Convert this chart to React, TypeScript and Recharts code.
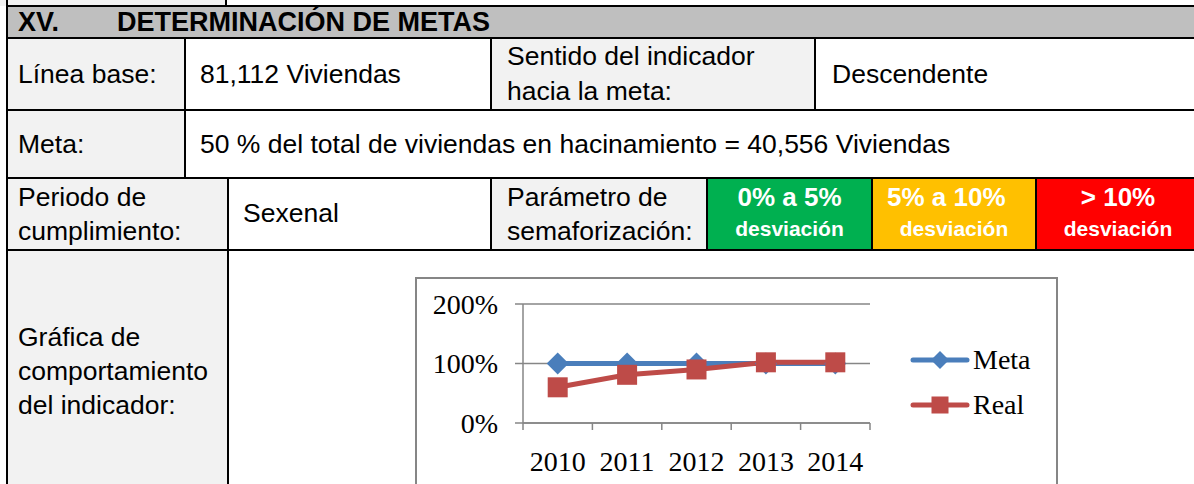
import React from 'react'
import { CartesianGrid, Legend, Line, LineChart, XAxis, YAxis } from 'recharts'

const YEARS = ['2010', '2011', '2012', '2013', '2014']
const META = [1, 1, 1, 1, 1]
const REAL = [0.6, 0.81, 0.9, 1.02, 1.02]
const Y_TICKS = [0, 1, 2]

const BLUE = '#4A7EBB'
const RED = '#BE4B48'
const AXIS = '#868686'
const SERIF = '"Liberation Serif", "Times New Roman", serif'
const SERIF_SIZE = 28

const rows = YEARS.map((year, i) => ({ year, meta: META[i], real: REAL[i] }))

const pct = (v: number) => `${Math.round(v * 100)}%`

// note: recharts passes its own `r` to dot elements, so use `half` here
function Diamond({ cx, cy, half = 11, color = BLUE }: any) {
  if (cx == null || cy == null) return null
  return <polygon points={`${cx},${cy - half} ${cx + half},${cy} ${cx},${cy + half} ${cx - half},${cy}`} fill={color} />
}

function Square({ cx, cy, side = 20, color = RED }: any) {
  if (cx == null || cy == null) return null
  return <rect x={cx - side / 2} y={cy - side / 2} width={side} height={side} fill={color} />
}

// excel-style ticks sit on the category boundaries, not the centres
function YearTick({ x, y, payload, index }: any) {
  const half = payload?.offset ?? 0
  return (
    <g>
      <line x1={x - half} x2={x - half} y1={y} y2={y + 7} stroke={AXIS} strokeWidth={1.5} />
      {index === YEARS.length - 1 && <line x1={x + half} x2={x + half} y1={y} y2={y + 7} stroke={AXIS} strokeWidth={1.5} />}
      <text x={x} y={y + 48} textAnchor="middle" fontFamily={SERIF} fontSize={SERIF_SIZE} fill="#000">
        {payload.value}
      </text>
    </g>
  )
}

function ChartLegend({ payload }: any) {
  return (
    <div style={{ fontFamily: SERIF, fontSize: SERIF_SIZE, color: '#000' }}>
      {(payload || []).map((p: any) => (
        <div key={p.value} style={{ display: 'flex', alignItems: 'center', height: 45 }}>
          <svg width={60} height={24} style={{ display: 'block' }}>
            <line x1={3} x2={57} y1={12} y2={12} stroke={p.color} strokeWidth={5} strokeLinecap="round" />
            {p.value === 'Meta' ? <Diamond cx={30} cy={12} half={9} color={p.color} /> : <Square cx={30} cy={12} side={17} color={p.color} />}
          </svg>
          <span style={{ marginLeft: 3 }}>{p.value}</span>
        </div>
      ))}
    </div>
  )
}

const abs = (left: number, top: number, width: number, height: number, extra: React.CSSProperties = {}): React.CSSProperties => ({
  position: 'absolute',
  left,
  top,
  width,
  height,
  ...extra,
})

function Txt({ x, y, children, size = 26.5, bold = false, color = '#000', w, align = 'left' }: any) {
  // y = vertical centre of the line
  return (
    <div
      style={{
        position: 'absolute',
        left: x,
        top: y - 18,
        width: w,
        height: 36,
        lineHeight: '36px',
        fontSize: size,
        fontWeight: bold ? 700 : 400,
        color,
        textAlign: align,
        whiteSpace: 'nowrap',
      }}
    >
      {children}
    </div>
  )
}

const LIGHT = '#F2F2F2'
const HEAD = '#BFBFBF'

export default function App() {
  const hLines: [number, number, number][] = [
    [5, 6, 1200],
    [37, 6, 1200],
    [109, 6, 1200],
    [177, 6, 1200],
    [249, 6, 1200],
  ]
  const vLines: [number, number, number][] = [
    [6, 0, 484],
    [225, 0, 6],
    [184, 37, 141],
    [490, 37, 73],
    [814, 37, 73],
    [227, 177, 307],
    [490, 177, 73],
    [706, 177, 73],
    [871, 177, 73],
    [1035, 177, 73],
  ]
  return (
    <div
      style={abs(0, 0, 1194, 484, {
        overflow: 'hidden',
        background: '#fff',
        fontFamily: '"Liberation Sans", Arial, sans-serif',
      })}
    >
      {/* cell fills */}
      <div style={abs(0, 0, 226, 6, { background: LIGHT })} />
      <div style={abs(7, 6, 1200, 32, { background: HEAD })} />
      <div style={abs(7, 38, 178, 72, { background: LIGHT })} />
      <div style={abs(491, 38, 324, 72, { background: LIGHT })} />
      <div style={abs(7, 110, 178, 68, { background: LIGHT })} />
      <div style={abs(7, 178, 221, 72, { background: LIGHT })} />
      <div style={abs(491, 178, 216, 72, { background: LIGHT })} />
      <div style={abs(707, 178, 165, 72, { background: '#00B050' })} />
      <div style={abs(872, 178, 164, 72, { background: '#FFC000' })} />
      <div style={abs(1036, 178, 170, 72, { background: '#FF0000' })} />
      <div style={abs(7, 250, 221, 240, { background: LIGHT })} />

      {/* borders */}
      {hLines.map(([y, x, w], i) => (
        <div key={'h' + i} style={abs(x, y, w, 2, { background: '#000' })} />
      ))}
      {vLines.map(([x, y, h], i) => (
        <div key={'v' + i} style={abs(x, y, 2, h, { background: '#000' })} />
      ))}

      {/* texts */}
      <Txt x={18} y={22} size={27} bold>XV.</Txt>
      <Txt x={117} y={22} size={27} bold>DETERMINACIÓN DE METAS</Txt>

      <Txt x={18} y={74}>Línea base:</Txt>
      <Txt x={200} y={74}>81,112 Viviendas</Txt>
      <Txt x={507} y={56}>Sentido del indicador</Txt>
      <Txt x={507} y={91}>hacia la meta:</Txt>
      <Txt x={832} y={74}>Descendente</Txt>

      <Txt x={18} y={144}>Meta:</Txt>
      <Txt x={200} y={144}>50 % del total de viviendas en hacinamiento = 40,556 Viviendas</Txt>

      <Txt x={18} y={197}>Periodo de</Txt>
      <Txt x={18} y={231}>cumplimiento:</Txt>
      <Txt x={243} y={213}>Sexenal</Txt>
      <Txt x={507} y={197}>Parámetro de</Txt>
      <Txt x={507} y={231}>semaforización:</Txt>

      <Txt x={707} y={197} w={165} size={26} align="center" bold color="#fff">0% a 5%</Txt>
      <Txt x={707} y={229} w={165} size={21} align="center" bold color="#fff">desviación</Txt>
      <Txt x={887} y={197} size={26} bold color="#fff">5% a 10%</Txt>
      <Txt x={872} y={229} w={164} size={21} align="center" bold color="#fff">desviación</Txt>
      <Txt x={1036} y={197} w={164} size={26} align="center" bold color="#fff">&gt; 10%</Txt>
      <Txt x={1036} y={229} w={164} size={21} align="center" bold color="#fff">desviación</Txt>

      <Txt x={18} y={337}>Gráfica de</Txt>
      <Txt x={18} y={371}>comportamiento</Txt>
      <Txt x={18} y={405}>del indicador:</Txt>

      {/* embedded chart */}
      <div
        style={abs(415, 277, 643, 260, {
          border: `2px solid ${AXIS}`,
          boxSizing: 'border-box',
          background: '#fff',
        })}
      >
        <LineChart width={639} height={250} data={rows} margin={{ top: 25, right: 186, left: 0, bottom: 66 }}>
          <CartesianGrid vertical={false} stroke={AXIS} strokeWidth={1.5} />
          <XAxis
            dataKey="year"
            scale="band"
            axisLine={{ stroke: AXIS, strokeWidth: 1.5 }}
            tickLine={false}
            tickSize={0}
            tickMargin={0}
            height={40}
            tick={<YearTick />}
            interval={0}
          />
          <YAxis
            type="number"
            domain={[0, 2]}
            ticks={Y_TICKS}
            tickFormatter={pct}
            width={106}
            axisLine={{ stroke: AXIS, strokeWidth: 1.5 }}
            tickLine={{ stroke: AXIS, strokeWidth: 1.5 }}
            tickSize={8}
            tickMargin={17}
            tick={{ fontFamily: SERIF, fontSize: SERIF_SIZE, fill: '#000' }}
          />
          <Legend
            layout="vertical"
            align="center"
            verticalAlign="middle"
            wrapperStyle={{ left: 493, top: 58, width: 140 }}
            content={<ChartLegend />}
          />
          <Line
            dataKey="meta"
            name="Meta"
            stroke={BLUE}
            strokeWidth={5}
            dot={<Diamond />}
            activeDot={false}
            isAnimationActive={false}
          />
          <Line
            dataKey="real"
            name="Real"
            stroke={RED}
            strokeWidth={5}
            dot={<Square />}
            activeDot={false}
            isAnimationActive={false}
          />
        </LineChart>
      </div>
    </div>
  )
}
